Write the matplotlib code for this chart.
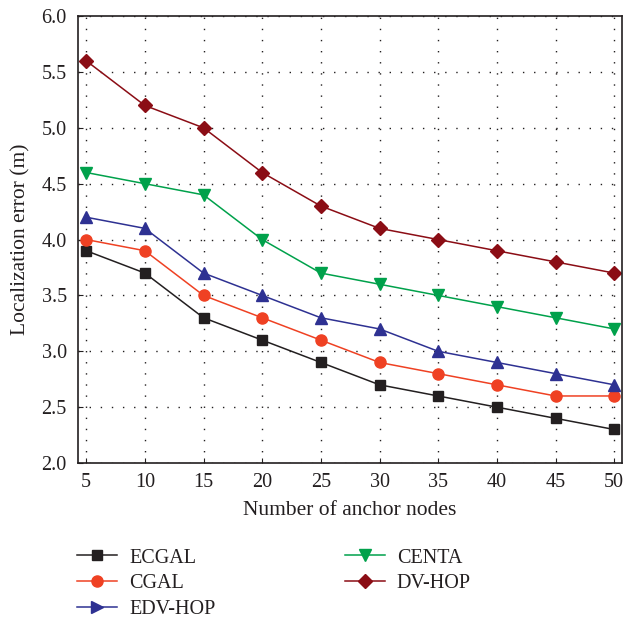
import matplotlib
matplotlib.use("Agg")
import matplotlib.pyplot as plt
from matplotlib.lines import Line2D

plt.rcParams['font.family'] = ['Liberation Serif', 'DejaVu Serif']

anchors = [5, 10, 15, 20, 25, 30, 35, 40, 45, 50]
ecgal = [3.9, 3.7, 3.3, 3.1, 2.9, 2.7, 2.6, 2.5, 2.4, 2.3]
cgal = [4.0, 3.9, 3.5, 3.3, 3.1, 2.9, 2.8, 2.7, 2.6, 2.6]
edvhop = [4.2, 4.1, 3.7, 3.5, 3.3, 3.2, 3.0, 2.9, 2.8, 2.7]
centa = [4.6, 4.5, 4.4, 4.0, 3.7, 3.6, 3.5, 3.4, 3.3, 3.2]
dvhop = [5.6, 5.2, 5.0, 4.6, 4.3, 4.1, 4.0, 3.9, 3.8, 3.7]

series = [
    ("ECGAL", ecgal, "#231f20", "s", "s", 7),
    ("CGAL", cgal, "#ef4123", "o", "o", 8),
    ("EDV-HOP", edvhop, "#2e3192", "^", ">", 8),
    ("CENTA", centa, "#00a14b", "v", "v", 8),
    ("DV-HOP", dvhop, "#8b0d15", "D", "D", 7),
]

fig = plt.figure(figsize=(6.39, 6.19), dpi=100)
ax = fig.add_axes([0.122, 0.252, 0.852, 0.722])

handles = {}
for name, vals, col, mk, legmk, ms in series:
    ax.plot(anchors, vals, color=col, marker=mk, markersize=ms, linewidth=1.1)
    handles[name] = Line2D([], [], color=col, marker=legmk, markersize=ms, linewidth=1.1)

ax.set_xlim(4.3, 50.7)
ax.set_ylim(2.0, 6.0)
ax.set_xticks(anchors)
ax.set_yticks([2.0, 2.5, 3.0, 3.5, 4.0, 4.5, 5.0, 5.5, 6.0])
ax.set_yticklabels(["2.0", "2.5", "3.0", "3.5", "4.0", "4.5", "5.0", "5.5", "6.0"])
ax.tick_params(direction="in", labelsize=14.5, color="#231f20", labelcolor="#231f20")
ax.tick_params(axis="x", pad=7)
ax.tick_params(axis="y", pad=8)
ax.grid(True, linestyle=(0, (1, 7)), color="#231f20", linewidth=1.0)
for s in ax.spines.values():
    s.set_color("#231f20")
    s.set_linewidth(1.2)
ax.set_xlabel("Number of anchor nodes", fontsize=15.5, color="#231f20", labelpad=7)
ax.set_ylabel("Localization error (m)", fontsize=15.5, color="#231f20", labelpad=8)

order = ["ECGAL", "CGAL", "EDV-HOP", "CENTA", "DV-HOP"]
fig.legend([handles[n] for n in order], order, loc="upper left",
           bbox_to_anchor=(0.108, 0.127), ncol=2, frameon=False, fontsize=14.5,
           handlelength=2.0, handletextpad=0.6, columnspacing=6.4,
           labelspacing=0.33, labelcolor="#231f20", borderaxespad=0)

fig.savefig("out.png", dpi=100)
